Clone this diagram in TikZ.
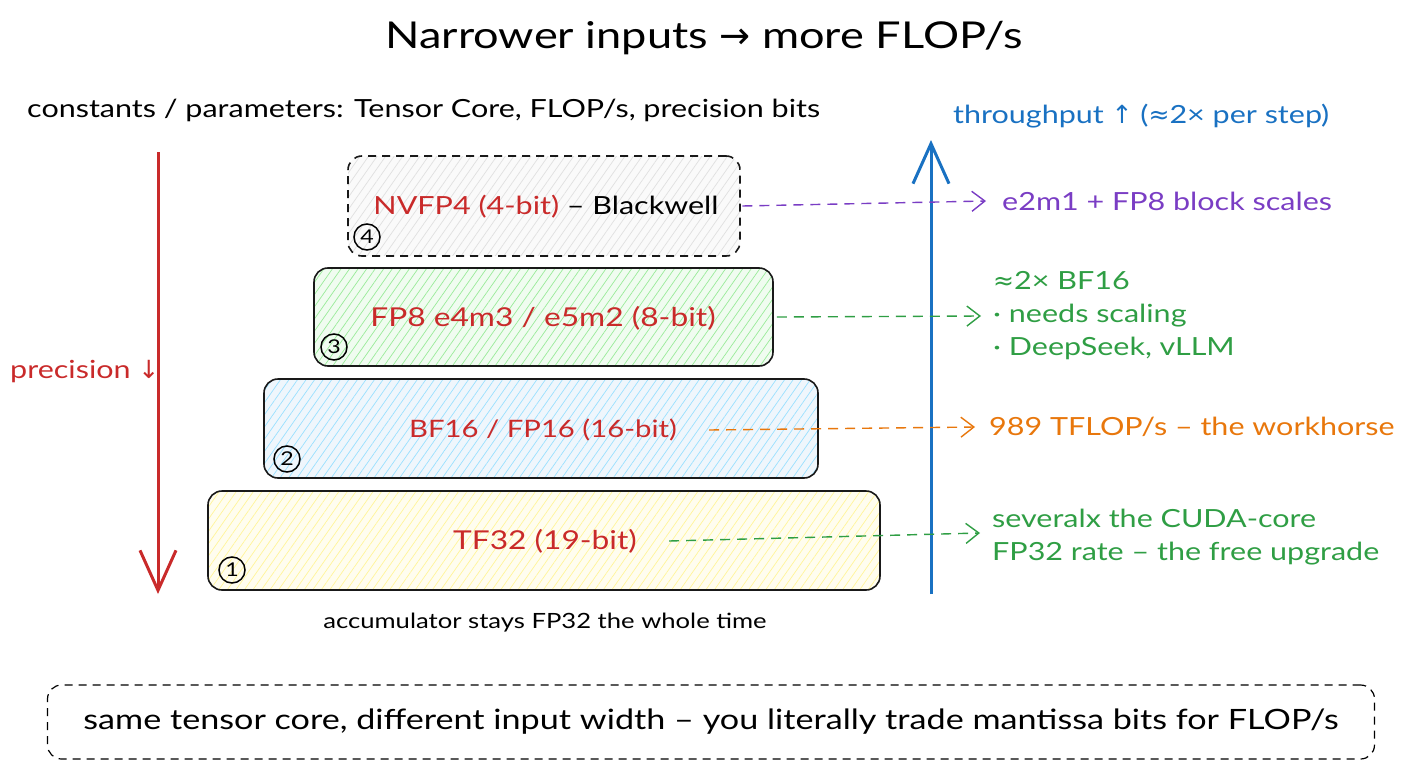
\documentclass[tikz,border=0pt]{standalone}
\usepackage{fontspec}
\setmainfont[FakeStretch=1.22]{Lato}
\newfontfamily\symfont{DejaVu Sans}
\usetikzlibrary{arrows.meta,patterns.meta}
\definecolor{inkred}{HTML}{C92A2A}
\definecolor{inkblue}{HTML}{1971C2}
\definecolor{inkgreen}{HTML}{2F9E44}
\definecolor{inkorange}{HTML}{E8770C}
\definecolor{inkviolet}{HTML}{7A3DC4}
\colorlet{hatchgrey}{black!30}
\colorlet{hatchgreen}{green!80!black}
\colorlet{hatchblue}{cyan!70!blue}
\colorlet{hatchyellow}{yellow!80!orange}
\newcommand{\fs}[2]{\fontsize{#1}{#2}\selectfont}

\begin{document}
\begin{tikzpicture}[x=1pt,y=-1pt,
    tier/.style={draw=black!90, line width=1.6pt, rounded corners=14pt, inner sep=0pt},
    hatch/.style={preaction={fill=#1!6}, pattern={Lines[angle=55,distance=7pt,line width=0.7pt]}, pattern color=#1!40},
    tierlbl/.style={font=\fs{25}{30}, text=inkred, inner sep=0pt},
    badge/.style={circle, draw=black, line width=1.5pt, minimum size=26pt, inner sep=0pt, font=\fs{19}{20}},
    note/.style={font=\fs{25}{33}, anchor=west, align=left, inner sep=0pt},
    link/.style={dashed, dash pattern=on 10pt off 7pt, line width=1.4pt, -{Straight Barb[length=13pt,width=20pt,line width=1.4pt]}},
    bigarrow/.style={line width=3pt, -{Straight Barb[length=40pt,width=36pt,line width=3pt]}}]
  \useasboundingbox (0,0) rectangle (1408,768);

  % title and header
  \node (title) at (704,38) [font=\fs{37}{44}] {Narrower inputs {\symfont→} more FLOP/s};
  \node (consts) at (27,110) [anchor=west, inner sep=0pt, font=\fs{25}{32}] {constants / parameters: Tensor Core, FLOP/s, precision bits};
  \node (thru) at (953,116) [anchor=west, inner sep=0pt, font=\fs{25}{32}, text=inkblue] {throughput {\symfont↑} ({\symfont≈}2× per step)};

  % the four tiers
  \node (b4) at (544,206) [tier, dashed, dash pattern=on 8pt off 6pt, minimum width=392pt, minimum height=100pt, hatch=hatchgrey] {};
  \node (b3) at (543.5,317) [tier, minimum width=459pt, minimum height=98pt, hatch=hatchgreen] {};
  \node (b2) at (541,428.5) [tier, minimum width=554pt, minimum height=99pt, hatch=hatchblue] {};
  \node (b1) at (544,540.5) [tier, minimum width=672pt, minimum height=99pt, hatch=hatchyellow] {};

  \node (t4) at (546,207) [tierlbl] {NVFP4 (4-bit) \textcolor{black}{– Blackwell}};
  \node (t3) at (543,318) [tierlbl, font=\fs{26}{30}] {FP8 e4m3 / e5m2 (8-bit)};
  \node (t2) at (543,430) [tierlbl, font=\fs{24}{30}] {BF16 / FP16 (16-bit)};
  \node (t1) at (545,541) [tierlbl, font=\fs{26}{30}] {TF32 (19-bit)};

  \node (c4) at (367,237) [badge] {4};
  \node (c3) at (334,347) [badge] {3};
  \node (c2) at (287,459) [badge] {2};
  \node (c1) at (232,570) [badge] {1};

  \node (accum) at (545,623) [font=\fs{21}{26}] {accumulator stays FP32 the whole time};

  % precision axis
  \coordinate (ptop) at (158,152);
  \coordinate (pbot) at (158,594);
  \draw[bigarrow, inkred] (ptop) -- (pbot);
  \node (prec) at (10,372) [anchor=west, inner sep=0pt, font=\fs{25}{32}, text=inkred] {precision {\symfont↓}};

  % throughput axis
  \coordinate (tbot) at (931,594);
  \coordinate (ttop) at (931,140);
  \draw[bigarrow, inkblue] (tbot) -- (ttop);

  % side notes
  \node (n4) at (1002,201) [note, text=inkviolet] {e2m1 + FP8 block scales};
  \node (n3) at (993,316) [note, text=inkgreen] {{\symfont≈}2× BF16\\· needs scaling\\· DeepSeek, vLLM};
  \node (n2) at (989,427) [note, text=inkorange] {989 TFLOP/s – the workhorse};
  \node (n1) at (992,537) [note, text=inkgreen] {severalx the CUDA-core\\FP32 rate – the free upgrade};

  \draw[link, inkviolet] ([xshift=2pt]b4.east) -- ([xshift=-16pt]n4.west);
  \draw[link, inkgreen] ([xshift=3pt]b3.east) -- ([xshift=-12pt]n3.west);
  \draw[link, inkorange] ([xshift=32pt]t2.east) -- ([xshift=-14pt]n2.west);
  \draw[link, inkgreen] ([xshift=32pt]t1.east) -- ([xshift=-12pt,yshift=4pt]n1.west);

  % bottom remark
  \node (remark) at (711,722) [draw, dashed, dash pattern=on 8pt off 6pt, line width=1.2pt, rounded corners=14pt, minimum width=1327pt, minimum height=74pt, font=\fs{28}{34}] {same tensor core, different input width – you literally trade mantissa bits for FLOP/s};
\end{tikzpicture}
\end{document}
